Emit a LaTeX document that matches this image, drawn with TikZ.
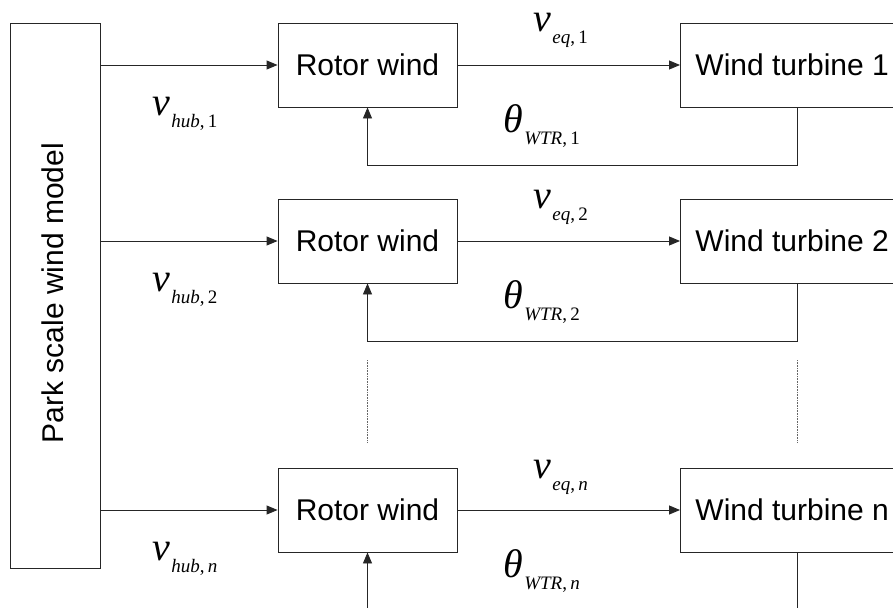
\documentclass[tikz,border=0pt]{standalone}
\usepackage{fontspec}
\setmainfont{Liberation Sans}
\newfontfamily\tms{Liberation Serif}
\usetikzlibrary{arrows.meta}
\newcommand\mlbl[2]{{\tms\itshape\fontsize{40}{40}\selectfont #1}\kern1.5pt\raisebox{-12pt}{\tms\fontsize{19}{19}\selectfont #2}}
\tikzset{
  ln/.style={line width=0.9pt, draw=black!85},
  arr/.style={ln, -{Triangle[length=11pt,width=9pt]}},
  rwbox/.style={ln, minimum width=179pt, minimum height=84pt, inner sep=0pt, font=\fontsize{30}{36}\selectfont},
  wtbox/.style={ln, anchor=west, minimum height=84pt, inner xsep=15pt, inner ysep=0pt, font=\fontsize{30}{36}\selectfont},
  lbl/.style={anchor=base west, inner sep=0pt},
  dotline/.style={line width=0.9pt, draw=black!60, dash pattern=on 0.8pt off 0.8pt}
}
\begin{document}
\begin{tikzpicture}[x=1pt,y=-1pt]
\useasboundingbox (0,0) rectangle (893,607);
\clip (0,0) rectangle (893,607);
\fill[white] (0,0) rectangle (893,607);
% park
\node[ln, draw, minimum width=90pt, minimum height=545pt, inner sep=0pt] (park) at (55,295.5) {};
\node[rotate=90, font=\fontsize{30}{36}\selectfont] (parklbl) at (53,293) {Park scale wind model};
% row 1
\node[rwbox, draw] (rw1) at (367.5,65) {Rotor wind};
\node[wtbox, draw] (wt1) at (680,65) {Wind turbine 1};
\draw[arr] (park.east |- rw1) -- (rw1.west);
\draw[arr] (rw1.east) -- (wt1.west);
\draw[arr] ([xshift=117pt]wt1.south west) -- ++(0,58) -| (rw1.south);
\node[lbl] (vh1) at (152,115) {\mlbl{v}{{\itshape hub},\,1}};
\node[lbl] (ve1) at (533,32) {\mlbl{v}{{\itshape eq},\,1}};
\node[lbl] (th1) at (503,132) {\mlbl{θ}{{\itshape WTR},\,1}};
% row 2
\node[rwbox, draw] (rw2) at (367.5,241) {Rotor wind};
\node[wtbox, draw] (wt2) at (680,241) {Wind turbine 2};
\draw[arr] (park.east |- rw2) -- (rw2.west);
\draw[arr] (rw2.east) -- (wt2.west);
\draw[arr] ([xshift=117pt]wt2.south west) -- ++(0,58) -| (rw2.south);
\node[lbl] (vh2) at (152,291) {\mlbl{v}{{\itshape hub},\,2}};
\node[lbl] (ve2) at (533,208) {\mlbl{v}{{\itshape eq},\,2}};
\node[lbl] (th2) at (503,308) {\mlbl{θ}{{\itshape WTR},\,2}};
% dots
\coordinate (d1a) at (367.5,360);
\coordinate (d1b) at (367.5,443);
\coordinate (d2a) at (797,360);
\coordinate (d2b) at (797,443);
\draw[dotline] (d1a) -- (d1b);
\draw[dotline] (d2a) -- (d2b);
% row n
\node[rwbox, draw] (rwn) at (367.5,510) {Rotor wind};
\node[wtbox, draw] (wtn) at (680,510) {Wind turbine n};
\draw[arr] (park.east |- rwn) -- (rwn.west);
\draw[arr] (rwn.east) -- (wtn.west);
\coordinate (wtbot) at (797,620);
\coordinate (rwbot) at (367.5,620);
\draw[ln] ([xshift=117pt]wtn.south west) -- (wtbot);
\draw[arr] (rwbot) -- (rwn.south);
\node[lbl] (vhn) at (152,560) {\mlbl{v}{{\itshape hub},\,{\itshape n}}};
\node[lbl] (ven) at (533,478) {\mlbl{v}{{\itshape eq},\,{\itshape n}}};
\node[lbl] (thn) at (503,577) {\mlbl{θ}{{\itshape WTR},\,{\itshape n}}};
\end{tikzpicture}
\end{document}
